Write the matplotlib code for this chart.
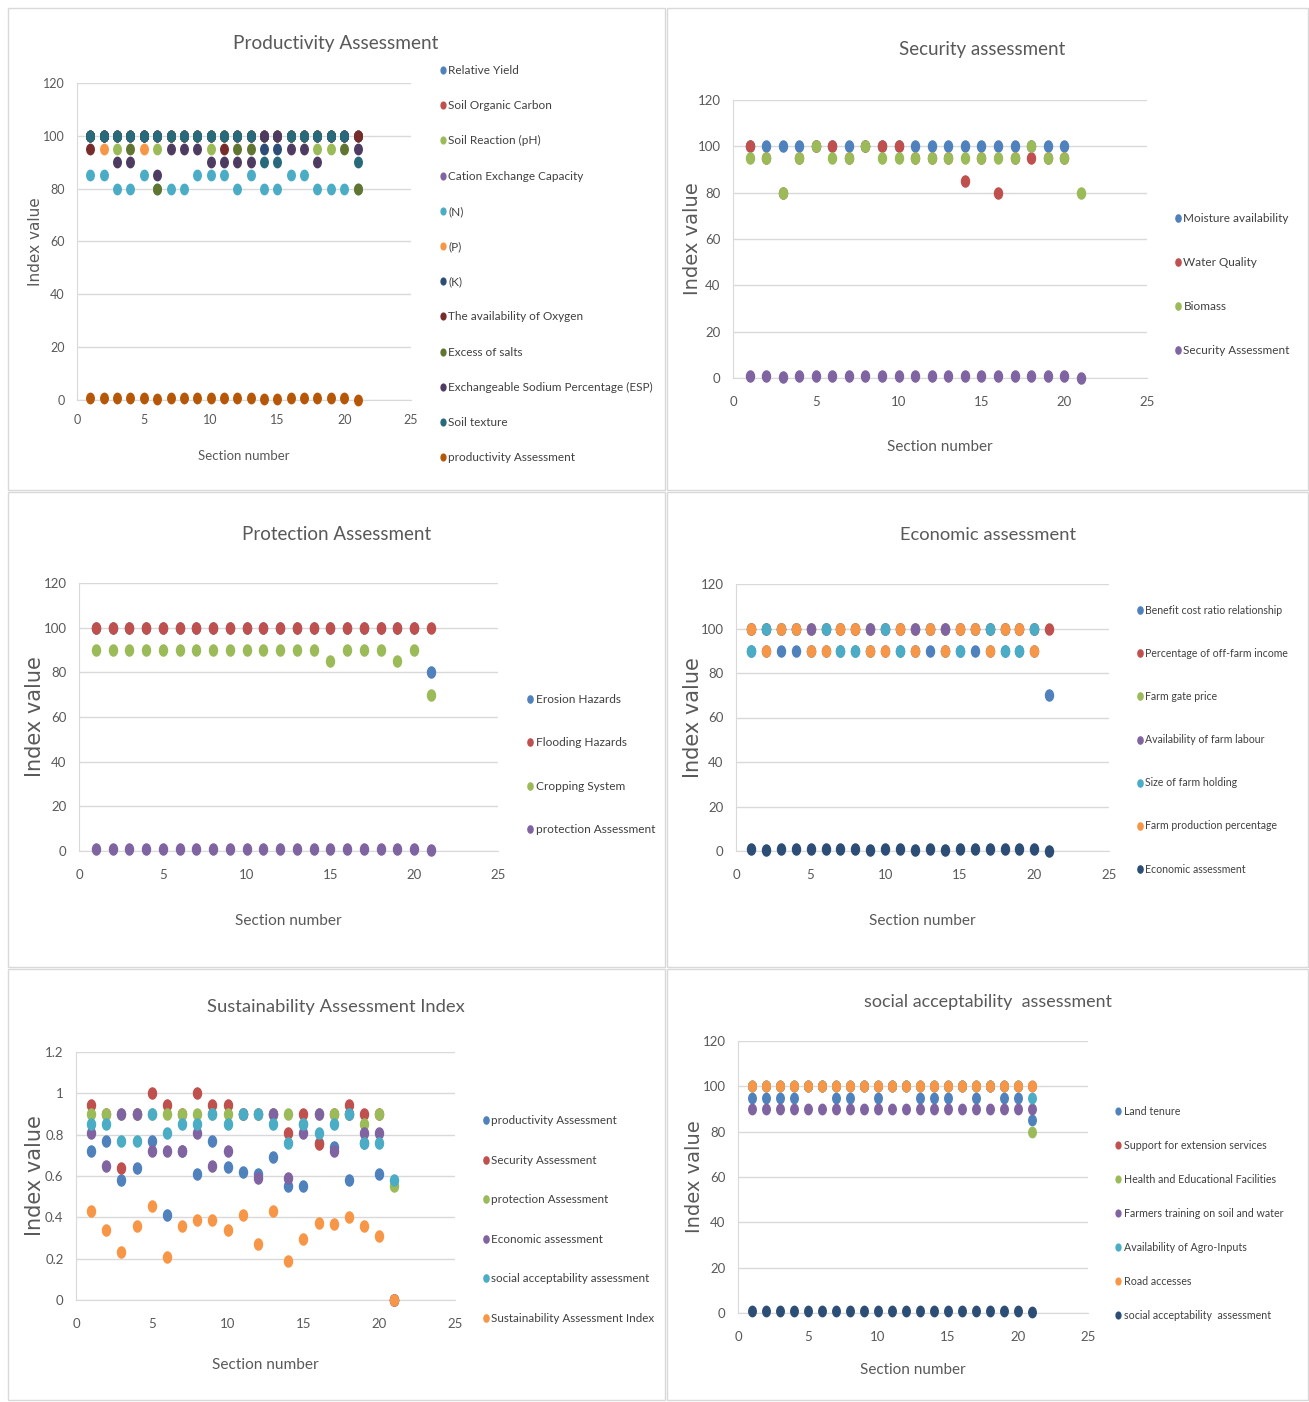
import numpy as np
import matplotlib.pyplot as plt
from matplotlib.path import Path
from matplotlib.patches import Rectangle

plt.rcParams['font.family'] = ['Lato', 'DejaVu Sans']

W, H = 1309, 1402
sections = np.arange(1, 22)
nan = np.nan

# ---- Productivity panel (12 series) ----
rel_yield = [100] * 21
soc = [100] * 21
ph = [100, 100, 95, 100, 100, 95, 100, 100, 100, 95, 100, 100, 100, 100, 100, 100, 100, 95, 95, 100, 100]
cec = [100] * 21
n_val = [85, 85, 80, 80, 85, 80, 80, 80, 85, 85, 85, 80, 85, 80, 80, 85, 85, 80, 80, 80, 80]
p_val = [100, 95, 100, 100, 95, 100, 100, 100, 100, 100, 100, 100, 100, 100, 100, 100, 100, 100, 100, 100, 100]
k_val = [100, 100, 100, 100, 100, 100, 100, 100, 100, 100, 100, 100, 100, 95, 95, 100, 100, 100, 100, 100, 100]
oxygen = [95, 100, 100, 100, 100, 100, 100, 100, 100, 100, 95, 100, 100, 100, 100, 100, 100, 100, 100, 100, 100]
salts = [100, 100, 100, 95, 100, 80, 100, 100, 100, 100, 100, 95, 95, 100, 100, 100, 100, 100, 100, 95, 80]
esp = [100, 100, 90, 90, 100, 85, 95, 95, 95, 90, 90, 90, 90, 100, 100, 95, 95, 90, 100, 100, 95]
texture = [100] * 13 + [90, 90] + [100] * 5 + [90]

# ---- Aggregated indices (Sustainability panel) ----
prod_assess = [0.72, 0.77, 0.58, 0.64, 0.77, 0.41, 0.72, 0.61, 0.77, 0.645, 0.62,
               0.61, 0.69, 0.55, 0.55, 0.76, 0.74, 0.58, 0.76, 0.61, 0.0]
sec_assess = [0.945, 0.9, 0.64, 0.9, 1.0, 0.945, 0.9, 1.0, 0.945, 0.945, 0.9,
              0.9, 0.9, 0.81, 0.9, 0.755, 0.9, 0.945, 0.9, 0.9, 0.0]
prot_assess = [0.9] * 14 + [0.85, 0.9, 0.9, 0.9, 0.85, 0.9, 0.55]
econ_assess = [0.81, 0.65, 0.9, 0.9, 0.72, 0.72, 0.72, 0.81, 0.65, 0.72, 0.9,
               0.59, 0.9, 0.59, 0.81, 0.9, 0.72, 0.9, 0.81, 0.81, 0.0]
social_assess = [0.85, 0.85, 0.77, 0.77, 0.9, 0.81, 0.85, 0.85, 0.9, 0.85, 0.9,
                 0.9, 0.85, 0.76, 0.85, 0.81, 0.85, 0.9, 0.76, 0.76, 0.58]
sai = [0.43, 0.34, 0.23, 0.36, 0.455, 0.21, 0.36, 0.385, 0.385, 0.34, 0.41,
       0.27, 0.43, 0.19, 0.295, 0.375, 0.37, 0.40, 0.36, 0.31, 0.0]

# ---- Security panel ----
moisture = [100] * 20 + [nan]
water = [100, 95, 80, 95, 100, 100, 95, 100, 100, 100, 95, 95, 95, 85, 95, 80, 95, 95, 95, 95, nan]
biomass = [95, 95, 80, 95, 100, 95, 95, 100, 95, 95, 95, 95, 95, 95, 95, 95, 95, 100, 95, 95, 80]

# ---- Protection panel ----
erosion = [100] * 20 + [80]
flooding = [100] * 21
cropping = [90] * 14 + [85, 90, 90, 90, 85, 90, 70]

# ---- Economic panel ----
bcr = [90] * 20 + [70]
offfarm = [100] * 21
farmgate = [100] * 20 + [nan]
labour = [100] * 20 + [nan]
holding = [90, 100, 100, 100, 90, 100, 90, 90, 90, 100, 90, 90, 100, 90, 90, 100, 100, 90, 90, 100, nan]
production = [100, 90, 100, 100, 90, 90, 100, 100, 90, 90, 100, 90, 100, 90, 100, 100, 90, 100, 100, 90, nan]

# ---- Social panel ----
land = [95, 95, 95, 95, 100, 100, 95, 95, 100, 95, 100, 100, 95, 95, 95, 100, 95, 100, 95, 95, 85]
extension = [100] * 21
health = [100] * 20 + [80]
training = [90] * 21
agro = [100] * 20 + [95]
road = [100] * 21

C = ['#4F81BD', '#C0504D', '#9BBB59', '#8064A2', '#4BACC6', '#F79646',
     '#2C4D75', '#772C2A', '#5F7530', '#4D3B62', '#276A7C', '#B65708']

# vertical ellipse marker like the Excel dots
circ = Path.unit_circle()
ellipse = Path(circ.vertices * np.array([0.72, 1.0]), circ.codes)

fig = plt.figure(figsize=(W / 100, H / 100), dpi=100)

# panel frames
for (x0, y0, x1, y1) in [(8, 8, 665, 490), (667, 8, 1308, 490), (8, 492, 665, 967),
                         (667, 492, 1308, 967), (8, 969, 665, 1400), (667, 969, 1308, 1400)]:
    fig.patches.append(Rectangle((x0 / W, 1 - y1 / H), (x1 - x0) / W, (y1 - y0) / H,
                                 transform=fig.transFigure, fill=False, ec='#d9d9d9', lw=1))


def panel(box, series, labels, title, ylim, yticks, ytl, title_xy, title_fs,
          leg_xy, leg_fs, leg_sp, xlab_y, xlab_fs, ylab_x, ylab_fs, tick_fs, xpad, msize):
    x0, y0, x1, y1 = box
    ax = fig.add_axes([x0 / W, 1 - y1 / H, (x1 - x0) / W, (y1 - y0) / H])
    for i, (vals, lab) in enumerate(zip(series, labels)):
        ax.plot(sections, vals, ls='none', marker=ellipse, ms=msize, color=C[i],
                mec=C[i], label=lab, zorder=3 + i * 0.01, clip_on=False)
    ax.set_xlim(0, 25)
    ax.set_ylim(*ylim)
    ax.set_xticks([0, 5, 10, 15, 20, 25])
    ax.set_yticks(yticks)
    ax.set_yticklabels(ytl)
    ax.tick_params(length=0, labelsize=tick_fs, colors='#595959')
    ax.tick_params(axis='y', pad=9)
    ax.tick_params(axis='x', pad=xpad)
    ax.grid(axis='y', color='#d9d9d9', lw=1)
    ax.set_axisbelow(True)
    for s in ['top', 'right']:
        ax.spines[s].set_visible(False)
    for s in ['left', 'bottom']:
        ax.spines[s].set_color('#d9d9d9')
    fig.text(title_xy[0] / W, 1 - title_xy[1] / H, title, ha='center', va='center',
             fontsize=title_fs, color='#595959')
    fig.text((x0 + x1) / 2 / W, 1 - xlab_y / H, 'Section number', ha='center',
             va='center', fontsize=xlab_fs, color='#595959')
    fig.text(ylab_x / W, 1 - (y0 + y1) / 2 / H, 'Index value', ha='center', va='center',
             rotation=90, fontsize=ylab_fs, color='#595959', family='DejaVu Sans')
    ax.legend(loc='upper left', bbox_to_anchor=(leg_xy[0] / W, 1 - leg_xy[1] / H),
              bbox_transform=fig.transFigure, frameon=False, fontsize=leg_fs,
              labelspacing=leg_sp, handlelength=0.6, handletextpad=0.2,
              borderpad=0, borderaxespad=0, markerscale=0.65,
              labelcolor='#404040')
    return ax


pct_ticks = [0, 20, 40, 60, 80, 100, 120]
pct_tl = [str(t) for t in pct_ticks]

panel((77, 83, 411, 400),
      [rel_yield, soc, ph, cec, n_val, p_val, k_val, oxygen, salts, esp, texture, prod_assess],
      ['Relative Yield', 'Soil Organic Carbon', 'Soil Reaction (pH)', 'Cation Exchange Capacity',
       '(N)', '(P)', '(K)', 'The availability of Oxygen', 'Excess of salts',
       'Exchangeable Sodium Percentage (ESP)', 'Soil texture', 'productivity Assessment'],
      'Productivity Assessment', (0, 120), pct_ticks, pct_tl, (336, 43), 13.7,
      (439, 65), 8.5, 2.05, 456, 9.5, 35, 11, 9, 10, 7.5)

panel((733, 100, 1147, 378),
      [moisture, water, biomass, sec_assess],
      ['Moisture availability', 'Water Quality', 'Biomass', 'Security Assessment'],
      'Security assessment', (0, 120), pct_ticks, pct_tl, (982, 50), 13.5,
      (1174, 213), 8.5, 2.8, 447, 11, 692, 14, 9.5, 13, 8)

panel((79, 583, 498, 851),
      [erosion, flooding, cropping, prot_assess],
      ['Erosion Hazards', 'Flooding Hazards', 'Cropping System', 'protection Assessment'],
      'Protection Assessment', (0, 120), pct_ticks, pct_tl, (337, 535), 13.5,
      (526, 694), 8.6, 2.72, 921, 11.1, 35, 15, 9.5, 13, 8)

panel((736, 584, 1109, 851),
      [bcr, offfarm, farmgate, labour, holding, production, econ_assess],
      ['Benefit cost ratio relationship', 'Percentage of off-farm income', 'Farm gate price',
       'Availability of farm labour', 'Size of farm holding', 'Farm production percentage',
       'Economic assessment'],
      'Economic assessment', (0, 120), pct_ticks, pct_tl, (988, 535), 13.2,
      (1137, 605), 7.6, 3.04, 921, 11.1, 693, 15, 9.5, 13, 8)

sust_ticks = [0, 0.2, 0.4, 0.6, 0.8, 1.0, 1.2]
panel((76, 1052, 455, 1300),
      [prod_assess, sec_assess, prot_assess, econ_assess, social_assess, sai],
      ['productivity Assessment', 'Security Assessment', 'protection Assessment',
       'Economic assessment', 'social acceptability assessment',
       'Sustainability Assessment Index'],
      'Sustainability Assessment Index', (0, 1.2), sust_ticks,
      ['0', '0.2', '0.4', '0.6', '0.8', '1', '1.2'], (336, 1007), 13.2,
      (482, 1115), 8.4, 2.45, 1365, 11.1, 35, 15, 9.5, 13, 8)

panel((738, 1041, 1088, 1313),
      [land, extension, health, training, agro, road, social_assess],
      ['Land tenure', 'Support for extension services', 'Health and Educational Facilities',
       'Farmers training on soil and water', 'Availability of Agro-Inputs', 'Road accesses',
       'social acceptability  assessment'],
      'social acceptability  assessment', (0, 120), pct_ticks, pct_tl, (988, 1002), 12.9,
      (1115, 1106), 7.7, 2.15, 1370, 11, 694, 14, 9.5, 13, 7.5)

fig.savefig('out.png', dpi=100)
